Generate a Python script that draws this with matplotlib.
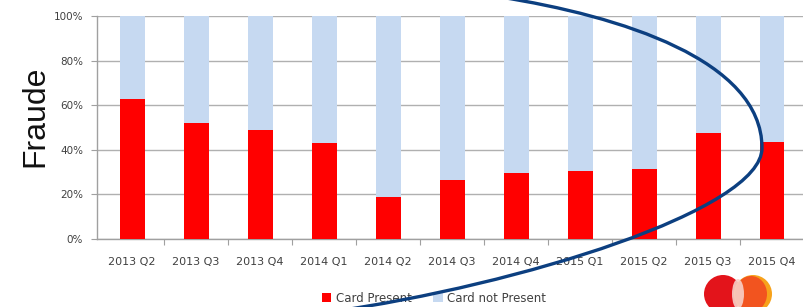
import matplotlib
matplotlib.use("Agg")
import matplotlib.pyplot as plt
import numpy as np
from matplotlib.path import Path
from matplotlib.patches import PathPatch, Ellipse
from matplotlib.lines import Line2D
from matplotlib.patches import Patch

quarters = ["2013 Q2", "2013 Q3", "2013 Q4", "2014 Q1", "2014 Q2", "2014 Q3",
            "2014 Q4", "2015 Q1", "2015 Q2", "2015 Q3", "2015 Q4"]
card_present = [63, 52, 49, 43, 19, 26.5, 29.5, 30.5, 31.5, 47.5, 43.5]
card_not_present = [100 - v for v in card_present]
y_ticks = [0, 20, 40, 60, 80, 100]
y_tick_labels = ["0%", "20%", "40%", "60%", "80%", "100%"]
series_names = ["Card Present", "Card not Present"]

W, H = 804, 307
fig = plt.figure(figsize=(W / 100, H / 100), dpi=100)
fig.patch.set_facecolor("white")

ax = fig.add_axes([97 / W, 1 - 239 / H, 707 / W, 223 / H])
x = np.arange(len(quarters))
red = "#FF0000"
blue = "#C6D9F1"
ax.bar(x, card_present, width=0.39, color=red, zorder=3)
ax.bar(x, card_not_present, bottom=card_present, width=0.39, color=blue, zorder=3)

ax.set_xlim(-0.55, 10.5)
ax.set_ylim(0, 100)
ax.set_yticks(y_ticks)
ax.set_yticklabels(y_tick_labels, fontsize=7.5, color="#404040", family="DejaVu Sans")
ax.set_xticks(x)
ax.set_xticklabels(quarters, fontsize=8, color="#404040", family="DejaVu Sans")
ax.tick_params(axis="x", which="major", length=0, pad=13)
ax.set_xticks(np.arange(len(quarters)) + 0.5, minor=True)
ax.tick_params(axis="x", which="minor", length=4, color="#A0A0A0", width=0.8)
ax.tick_params(axis="y", length=4, color="#A0A0A0", width=0.8, pad=6)
ax.yaxis.grid(True, color="#B0B0B0", linewidth=1.0, zorder=0)
ax.set_axisbelow(True)
for s in ["top", "right"]:
    ax.spines[s].set_visible(False)
for s in ["left", "bottom"]:
    ax.spines[s].set_color("#A0A0A0")
    ax.spines[s].set_linewidth(1.0)

fig.text(35 / W, 1 - 116 / H, "Fraude", rotation=90, fontsize=23,
         family="Liberation Sans", color="#111111", ha="center", va="center")

handles = [Patch(facecolor=red, edgecolor="none"), Patch(facecolor=blue, edgecolor="none")]
fig.legend(handles, series_names, loc="center", bbox_to_anchor=(434 / W, 1 - 298 / H),
           ncol=2, frameon=False, fontsize=8.5, handlelength=0.8, handleheight=0.8,
           handletextpad=0.4, columnspacing=1.8, labelcolor="#404040")

# Mastercard-like logo
def fx(px):
    return px / W
def fy(py):
    return 1 - py / H
r = 19
fig.patches.append(Ellipse((fx(723), fy(294)), 2 * r / W, 2 * r / H, transform=fig.transFigure,
                           facecolor="#E3141B", edgecolor="none", zorder=5))
fig.patches.append(Ellipse((fx(753), fy(294)), 2 * r / W, 2 * r / H, transform=fig.transFigure,
                           facecolor="#F7A21B", edgecolor="none", zorder=5))
fig.patches.append(Ellipse((fx(751), fy(294)), 2 * (r - 3) / W, 2 * (r - 1) / H, transform=fig.transFigure,
                           facecolor="#F2541F", edgecolor="none", zorder=5))
fig.patches.append(Ellipse((fx(738), fy(294)), 12 / W, 30 / H, transform=fig.transFigure,
                           facecolor="#F8D0C8", edgecolor="none", alpha=0.9, zorder=6))

# Annotation curve
pts = [(500, -3), (620, 16), (762, 60), (762, 148),
       (762, 210), (520, 285), (330, 312)]
verts = [(fx(px), fy(py)) for px, py in pts]
codes = [Path.MOVETO, Path.CURVE4, Path.CURVE4, Path.CURVE4,
         Path.CURVE4, Path.CURVE4, Path.CURVE4]
fig.patches.append(PathPatch(Path(verts, codes), transform=fig.transFigure,
                             facecolor="none", edgecolor="#0C3F80", linewidth=2.4, zorder=10))

fig.savefig("out.png", dpi=100, facecolor="white")
